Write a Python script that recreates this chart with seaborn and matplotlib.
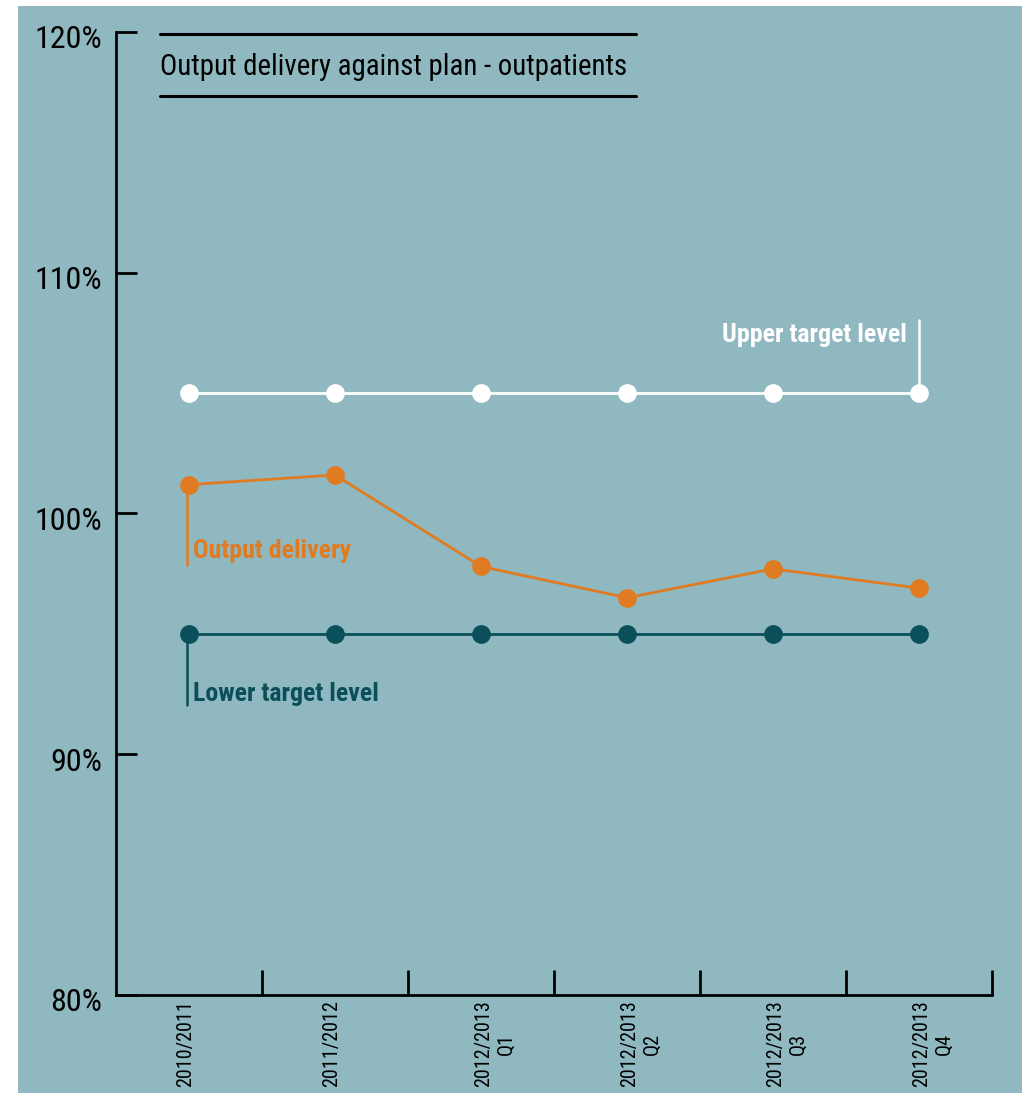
import matplotlib
matplotlib.use("Agg")
import matplotlib.pyplot as plt
import matplotlib.transforms as mtransforms
from matplotlib import font_manager
from matplotlib.patches import Rectangle
from matplotlib.lines import Line2D
import seaborn as sns
import pandas as pd

# Reporting periods and percentages of plan
periods = ["2010/2011", "2011/2012", "2012/2013\nQ1", "2012/2013\nQ2", "2012/2013\nQ3", "2012/2013\nQ4"]
output_delivery = [101.2, 101.6, 97.8, 96.5, 97.7, 96.9]
upper_target = [105, 105, 105, 105, 105, 105]
lower_target = [95, 95, 95, 95, 95, 95]
y_ticks = [80, 90, 100, 110, 120]

BG = "#8fb8c0"
ORANGE = "#e07b22"
DARK = "#0a4f59"
WHITE = "#ffffff"

sns.set_theme(style="white")

# prefer a narrow sans face when one is installed
installed = font_manager.fontManager.ttflist
names = {f.name for f in installed}
narrow = None
for cand in ["Liberation Sans Narrow", "Roboto Condensed", "DejaVu Sans Condensed",
             "Open Sans Condensed", "Noto Sans Condensed", "Arial Narrow"]:
    if cand in names:
        narrow = cand
        break
stretch = "normal"
if narrow is None:
    narrow = "DejaVu Sans"
    if any(f.name == "DejaVu Sans" and f.stretch in ("condensed", 300) for f in installed):
        stretch = "condensed"
plt.rcParams["font.family"] = [narrow, "DejaVu Sans"]
plt.rcParams["font.stretch"] = stretch

W, H = 1028, 1093
fig = plt.figure(figsize=(W / 100, H / 100), dpi=100, facecolor="white")

# panel background
fig.add_artist(Rectangle((18 / W, 0), (1022 - 18) / W, 1 - 6 / H,
                         transform=fig.transFigure, facecolor=BG, edgecolor="none", zorder=0))

left, right, top, bottom = 116 / W, 992 / W, 1 - 32 / H, 1 - 995 / H
ax = fig.add_axes([left, bottom, right - left, top - bottom])
ax.set_facecolor("none")

x = list(range(len(periods)))
df = pd.DataFrame({
    "x": x * 3,
    "value": upper_target + output_delivery + lower_target,
    "series": ["Upper target level"] * 6 + ["Output delivery"] * 6 + ["Lower target level"] * 6,
})
palette = {"Upper target level": WHITE, "Output delivery": ORANGE, "Lower target level": DARK}
sns.lineplot(data=df, x="x", y="value", hue="series", palette=palette, marker="o",
             markersize=13.5, markeredgewidth=0, linewidth=2.0, legend=False, ax=ax, zorder=3)

ax.set_xlim(-0.5, len(periods) - 0.5)
ax.set_ylim(80, 120)

# spines
for s in ["top", "right"]:
    ax.spines[s].set_visible(False)
for s in ["left", "bottom"]:
    ax.spines[s].set_color("black")
    ax.spines[s].set_linewidth(2.0)

# y axis
ax.set_yticks(y_ticks)
ax.set_yticklabels([f"{v}%" for v in y_ticks], fontsize=23, color="black")
ax.tick_params(axis="y", left=True, direction="in", length=15, width=2.0, color="black", pad=10)
shift_down = mtransforms.ScaledTranslation(0, -5 / 100, fig.dpi_scale_trans)
for lab in ax.get_yticklabels():
    lab.set_transform(lab.get_transform() + shift_down)

# x axis: category labels centred, boundary ticks between categories
ax.set_xticks(x)
ax.set_xticklabels(periods, rotation=90, fontsize=14.5, color="black",
                   va="top", ha="center", multialignment="center")
ax.tick_params(axis="x", which="major", bottom=True, length=0, pad=4)
ax.set_xticks([i + 0.5 for i in x], minor=True)
ax.tick_params(axis="x", which="minor", bottom=True, direction="in", length=18, width=2.0,
               color="black")
for lab, name in zip(ax.get_xticklabels(), periods):
    dx = 14 if "\n" in name else -3
    lab.set_transform(lab.get_transform() + mtransforms.ScaledTranslation(dx / 100, 0, fig.dpi_scale_trans))
ax.set_xlabel("")
ax.set_ylabel("")

# series labels with leader lines
ax.plot([5, 5], [upper_target[5], 108.05], color=WHITE, lw=1.8, zorder=2)
ax.text(4.92, 107.4, "Upper target level", color=WHITE, fontsize=18.6, fontweight="bold",
        ha="right", va="center")
ax.plot([-0.015, -0.015], [output_delivery[0], 97.85], color=ORANGE, lw=1.8, zorder=2)
ax.text(0.03, 98.45, "Output delivery", color=ORANGE, fontsize=18.6, fontweight="bold",
        ha="left", va="center")
ax.plot([-0.015, -0.015], [lower_target[0], 92.05], color=DARK, lw=1.8, zorder=2)
ax.text(0.03, 92.5, "Lower target level", color=DARK, fontsize=18.6, fontweight="bold",
        ha="left", va="center")

# title between two rules
fig.add_artist(Line2D([160 / W, 636 / W], [1 - 34 / H, 1 - 34 / H], transform=fig.transFigure,
                      color="black", lw=2.2))
fig.add_artist(Line2D([160 / W, 636 / W], [1 - 96 / H, 1 - 96 / H], transform=fig.transFigure,
                      color="black", lw=2.2))
fig.text(160 / W, 1 - 67 / H, "Output delivery against plan - outpatients", fontsize=20.8,
         color="black", ha="left", va="center")

fig.savefig("out.png", dpi=100, facecolor="white")
